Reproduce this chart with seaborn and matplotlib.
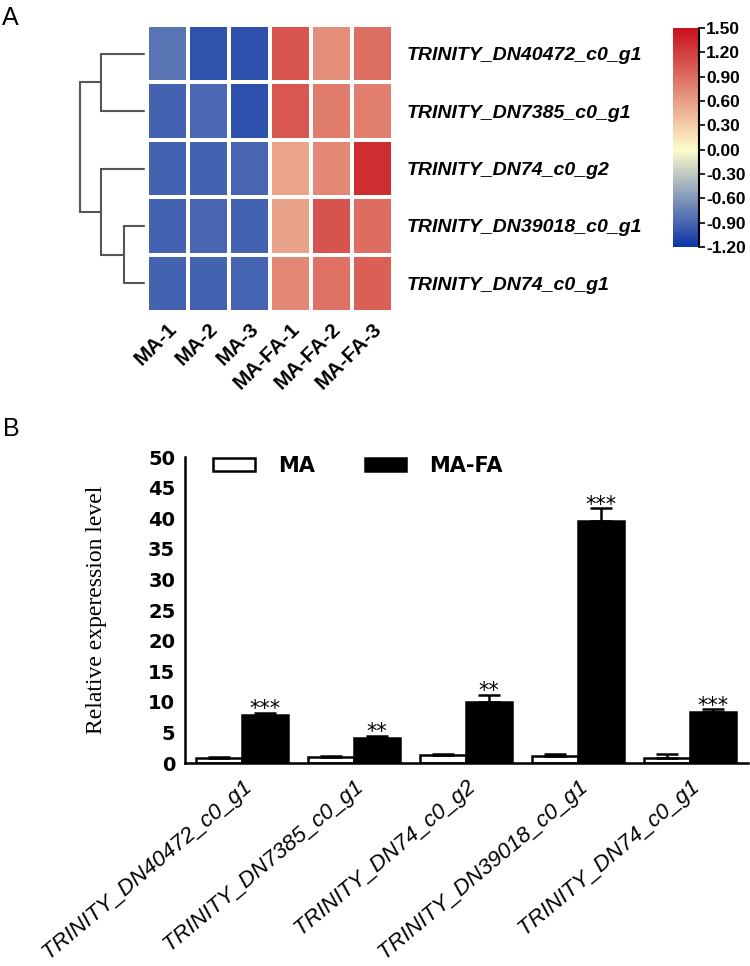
import numpy as np
import pandas as pd
import matplotlib
matplotlib.use('Agg')
import matplotlib.pyplot as plt
from matplotlib.colors import LinearSegmentedColormap
from matplotlib.patches import Patch
import seaborn as sns

# ---- panel A data ----
genes = ['TRINITY_DN40472_c0_g1', 'TRINITY_DN7385_c0_g1', 'TRINITY_DN74_c0_g2',
         'TRINITY_DN39018_c0_g1', 'TRINITY_DN74_c0_g1']
samples = ['MA-1', 'MA-2', 'MA-3', 'MA-FA-1', 'MA-FA-2', 'MA-FA-3']

# scaled expression, one list per gene (same order as samples)
z_dn40472_g1 = [-0.82, -1.02, -1.03, 1.05, 0.69, 0.89]
z_dn7385_g1 = [-0.92, -0.88, -1.03, 1.04, 0.81, 0.80]
z_dn74_g2 = [-0.92, -0.92, -0.90, 0.56, 0.74, 1.30]
z_dn39018_g1 = [-0.92, -0.90, -0.92, 0.57, 1.06, 0.90]
z_dn74_g1 = [-0.92, -0.92, -0.91, 0.74, 0.88, 0.99]

cbar_ticks = [-1.2, -0.9, -0.6, -0.3, 0.0, 0.3, 0.6, 0.9, 1.2, 1.5]

# row dendrogram, scipy-like linkage rows: (left id, right id, height)
# ids >= 5 are the clusters made by earlier rows
merges = [[3, 4, 1.25], [0, 1, 2.7], [2, 5, 2.7], [6, 7, 4.0]]

# ---- panel B data ----
groups = ['MA', 'MA-FA']
ma_mean = [0.8, 1.0, 1.3, 1.2, 0.8]
ma_err = [0.2, 0.2, 0.25, 0.25, 0.7]
mafa_mean = [7.9, 4.1, 10.0, 39.6, 8.3]
mafa_err = [0.3, 0.4, 1.1, 2.0, 0.5]
stars = ['***', '**', '**', '***', '***']
y_ticks = [0, 5, 10, 15, 20, 25, 30, 35, 40, 45, 50]

sns.set_style('white')
plt.rcParams['font.family'] = ['DejaVu Sans']
plt.rcParams['text.color'] = 'black'
plt.rcParams['axes.labelcolor'] = 'black'
plt.rcParams['xtick.color'] = 'black'
plt.rcParams['ytick.color'] = 'black'

fig = plt.figure(figsize=(7.5, 9.66), dpi=100)

# ---------------- panel A ----------------
ax_h = fig.add_axes([0.196, 0.677, 0.328, 0.2971])
ax_d = fig.add_axes([0.1067, 0.677, 0.0853, 0.2971])
cax = fig.add_axes([0.8973, 0.7443, 0.0347, 0.2267])

heat_df = pd.DataFrame([z_dn40472_g1, z_dn7385_g1, z_dn74_g2, z_dn39018_g1, z_dn74_g1],
                       index=genes, columns=samples)

cmap = LinearSegmentedColormap.from_list(
    'blue_yellow_red', [(0.0, '#0b34a8'), (1.2 / 2.7, '#fdfccc'), (1.0, '#c8101a')])

sns.heatmap(heat_df, ax=ax_h, cmap=cmap, vmin=-1.2, vmax=1.5,
            linewidths=1.5, linecolor='white', cbar_ax=cax,
            cbar_kws={'ticks': cbar_ticks, 'format': '%.2f'})

ax_h.yaxis.tick_right()
ax_h.set_yticklabels(genes, rotation=0, fontstyle='italic', fontweight='bold',
                     family='Liberation Sans', fontsize=14)
ax_h.tick_params(axis='y', length=0, pad=10)
ax_h.set_xticklabels(samples, rotation=45, ha='right', rotation_mode='anchor',
                     fontweight='bold', family='Liberation Sans', fontsize=15)
ax_h.tick_params(axis='x', length=0, pad=5)
ax_h.set_xlabel('')
ax_h.set_ylabel('')

cbar = ax_h.collections[0].colorbar
cbar.outline.set_visible(False)
cax.tick_params(length=4, width=1.2, pad=1, color='black')
for t in cax.get_yticklabels():
    t.set_fontweight('bold')
    t.set_fontfamily('Liberation Sans')
    t.set_fontsize(12.5)
cax.plot([1, 1], [0, 1], transform=cax.transAxes, color='black', lw=1.5, clip_on=False)

# dendrogram drawn from the linkage rows
n = len(genes)
pos = {i: i + 0.5 for i in range(n)}
hgt = {i: 0.0 for i in range(n)}
for k, (a, b, h) in enumerate(merges):
    for c in (a, b):
        ax_d.plot([hgt[c], h], [pos[c], pos[c]], color='#555555', lw=1.5, clip_on=False)
    ax_d.plot([h, h], [pos[a], pos[b]], color='#555555', lw=1.5, clip_on=False)
    pos[n + k] = (pos[a] + pos[b]) / 2
    hgt[n + k] = h
ax_d.set_xlim(max(m[2] for m in merges), 0)
ax_d.set_ylim(n, 0)
ax_d.axis('off')

fig.text(0.003, 1 - 25 / 966, 'A', fontsize=18, family='Liberation Sans', va='baseline')

# ---------------- panel B ----------------
ax_b = fig.add_axes([0.2467, 0.2101, 0.7507, 0.3168])

bar_df = pd.DataFrame({
    'gene': genes * 2,
    'group': [groups[0]] * len(genes) + [groups[1]] * len(genes),
    'value': ma_mean + mafa_mean,
})

sns.barplot(data=bar_df, x='gene', y='value', hue='group', order=genes, hue_order=groups,
            palette={'MA': 'white', 'MA-FA': 'black'}, edgecolor='black', linewidth=1.8,
            width=0.82, errorbar=None, legend=False, ax=ax_b)

# one-sided error bars on top of each bar
bars = sorted(ax_b.patches, key=lambda p: p.get_x())
errs = []
for e1, e2 in zip(ma_err, mafa_err):
    errs += [e1, e2]
xs = np.array([p.get_x() + p.get_width() / 2 for p in bars])
hs = np.array([p.get_height() for p in bars])
errs = np.array(errs)
ax_b.errorbar(xs, hs, yerr=[np.zeros_like(errs), errs], fmt='none', ecolor='black',
              elinewidth=1.8, capsize=8, capthick=1.8, zorder=3)

for i, s in enumerate(stars):
    j = 2 * i + 1
    ax_b.text(xs[j], hs[j] + errs[j] + 0.6, s, ha='center', va='center', fontsize=15)

ax_b.set_ylim(0, 50)
ax_b.set_xlim(-0.509, 4.52)
ax_b.set_yticks(y_ticks)
ax_b.set_yticklabels([str(v) for v in y_ticks], fontweight='bold', fontsize=14)
ax_b.set_xticks(range(len(genes)))
ax_b.set_xticklabels(genes, rotation=40, ha='right', rotation_mode='anchor',
                     fontstyle='italic', family='Liberation Sans', fontsize=16)
ax_b.tick_params(axis='both', direction='out', length=5, width=1.8, color='black')
ax_b.tick_params(axis='y', pad=2)
ax_b.tick_params(axis='x', pad=4)
ax_b.set_xlabel('')
ax_b.set_ylabel('Relative experession level', family='Liberation Serif', fontsize=17)
ax_b.yaxis.set_label_coords(-0.138, 0.5)
sns.despine(ax=ax_b)
for sp in ['left', 'bottom']:
    ax_b.spines[sp].set_linewidth(1.8)
    ax_b.spines[sp].set_color('black')

handles = [Patch(facecolor='white', edgecolor='black', lw=1.8, label='MA'),
           Patch(facecolor='black', edgecolor='black', lw=1.8, label='MA-FA')]
ax_b.legend(handles=handles, ncol=2, frameon=False, loc='center left',
            bbox_to_anchor=(0.05, 0.97), handlelength=2.0, handleheight=0.6,
            handletextpad=1.1, columnspacing=2.4, borderpad=0, borderaxespad=0,
            prop={'weight': 'bold', 'size': 15, 'family': 'DejaVu Sans'})

fig.text(0.004, 1 - 436 / 966, 'B', fontsize=18, family='Liberation Sans', va='baseline')

fig.savefig('out.png', dpi=100)
